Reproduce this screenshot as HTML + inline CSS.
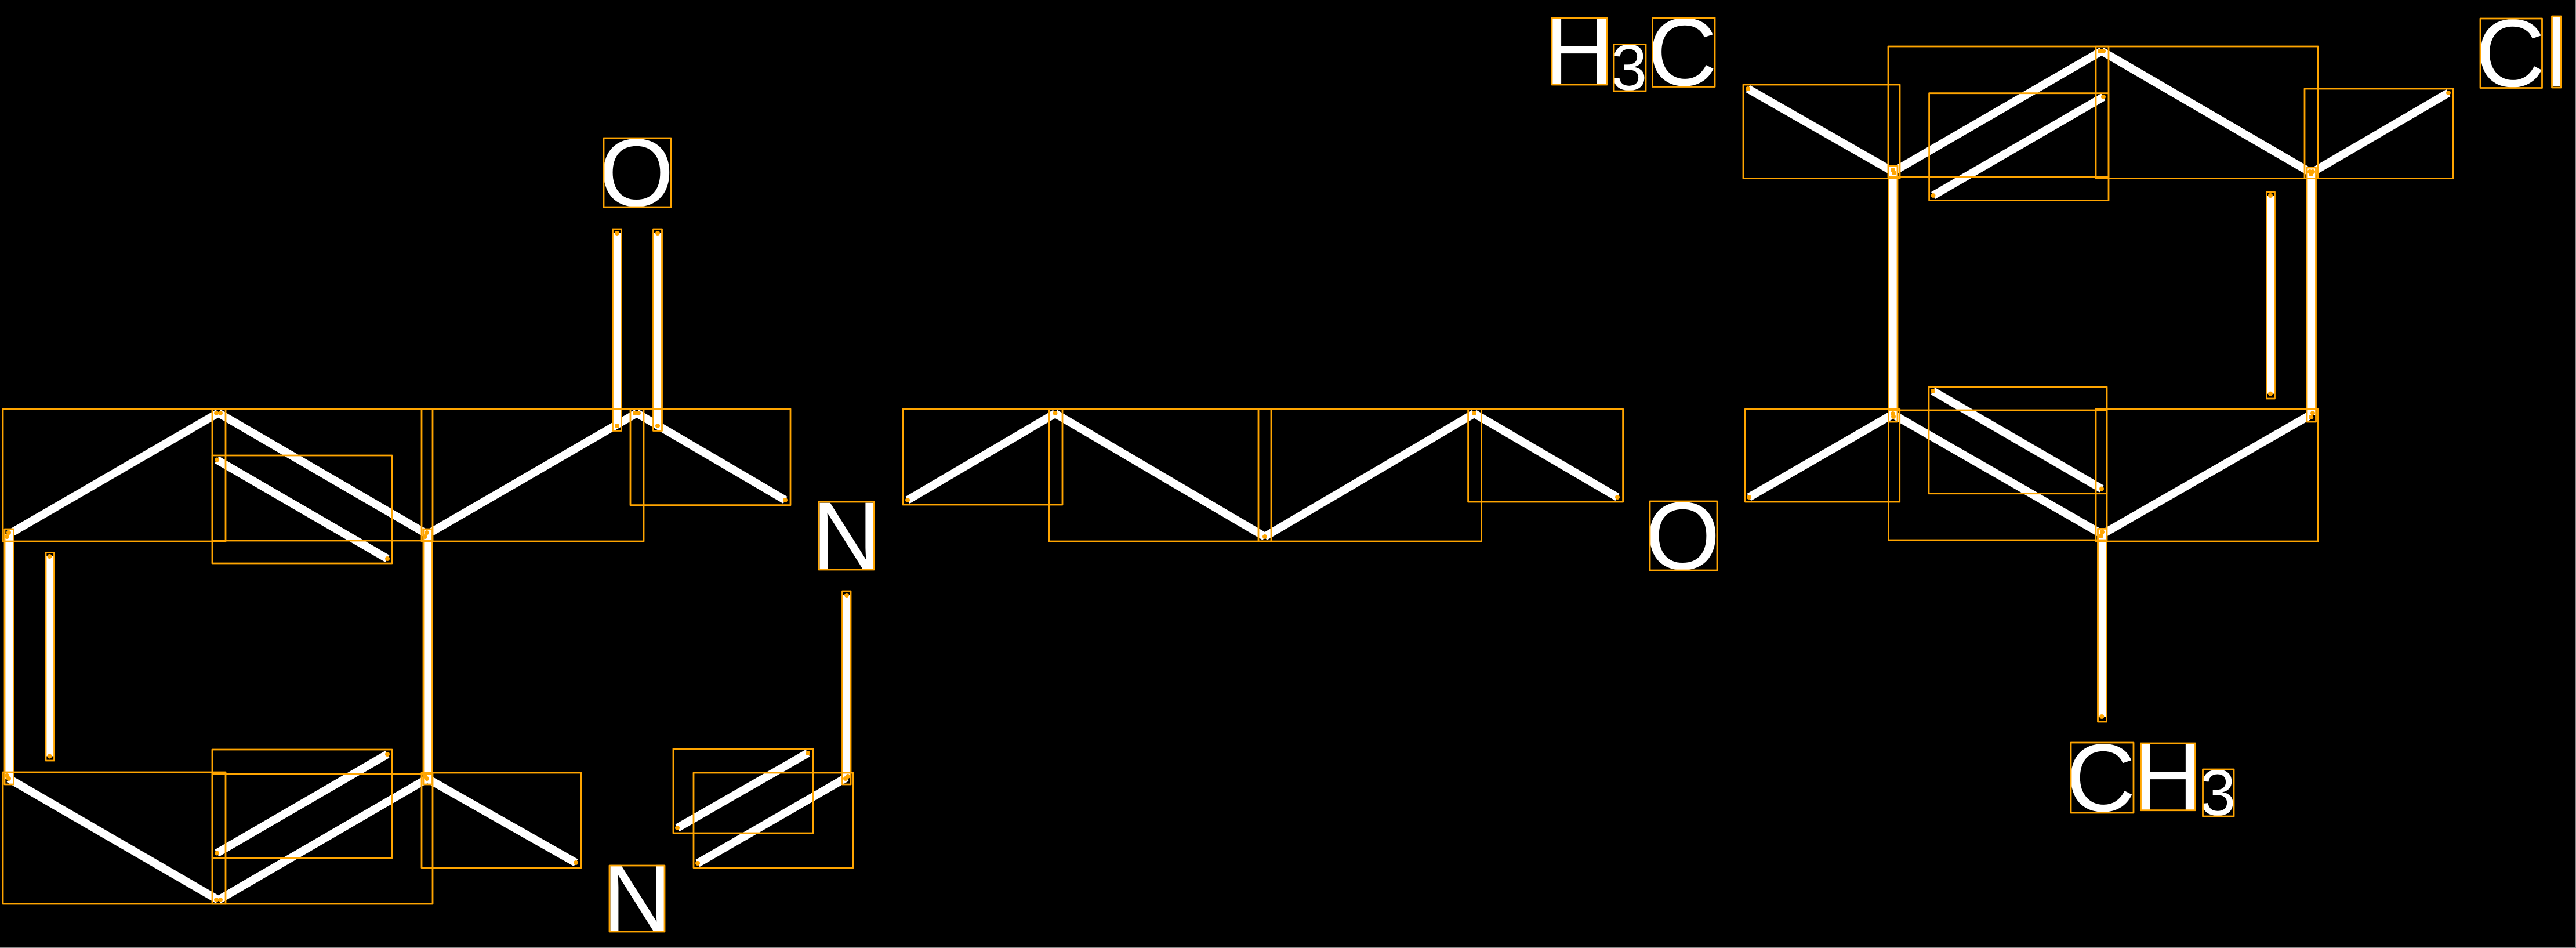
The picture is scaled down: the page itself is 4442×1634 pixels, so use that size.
<!DOCTYPE html>
<html lang="en">
<head>
<meta charset="utf-8">
<title>Molecule diagram</title>
<style>
html,body{margin:0;padding:0;background:#000}
svg{display:block}
text{font-family:"Liberation Sans",sans-serif;fill:#fff}
.a{font-size:166px}
.s{font-size:112px}
</style>
</head>
<body>
<svg xmlns="http://www.w3.org/2000/svg" width="4442" height="1634" viewBox="0 0 4442 1634">
<rect x="0" y="0" width="4442" height="1634" fill="#000"/>
<rect x="4441" y="0" width="1" height="1634" fill="#888"/>
<rect x="0" y="1633" width="4442" height="1" fill="#888"/>

<g stroke="#fff" stroke-width="14" fill="none" stroke-linecap="butt">
<line x1="15" y1="921" x2="376" y2="712"/>
<line x1="377" y1="712" x2="737" y2="921"/>
<line x1="374" y1="792.5" x2="668" y2="963"/>
<line x1="15.5" y1="921" x2="15.5" y2="1342"/>
<line x1="86" y1="959" x2="86" y2="1303.5"/>
<line x1="15" y1="1342" x2="376" y2="1551"/>
<line x1="377" y1="1551" x2="737" y2="1342"/>
<line x1="374" y1="1470.5" x2="668" y2="1300"/>
<line x1="737.5" y1="921" x2="737.5" y2="1342"/>
<line x1="737" y1="921" x2="1098" y2="712"/>
<line x1="1098" y1="712" x2="1354" y2="862"/>
<line x1="1064" y1="402" x2="1064" y2="734"/>
<line x1="1134" y1="402" x2="1134" y2="734"/>
<line x1="737" y1="1342" x2="993" y2="1487"/>
<line x1="1203" y1="1488" x2="1460" y2="1340"/>
<line x1="1168" y1="1427" x2="1393" y2="1298"/>
<line x1="1460" y1="1026" x2="1460" y2="1340"/>
<line x1="1565" y1="862" x2="1819.5" y2="712.7"/>
<line x1="1819.5" y1="712.7" x2="2181" y2="925"/>
<line x1="2181" y1="925" x2="2542" y2="712.7"/>
<line x1="2542" y1="712.7" x2="2789" y2="857"/>
<line x1="3016" y1="857" x2="3264" y2="714"/>
<line x1="3014" y1="153" x2="3264.6" y2="296"/>
<line x1="3264.5" y1="296" x2="3264.5" y2="716"/>
<line x1="3264.6" y1="296" x2="3624" y2="88"/>
<line x1="3333.5" y1="337" x2="3627" y2="167"/>
<line x1="3624" y1="88" x2="3985.5" y2="298"/>
<line x1="3985.5" y1="298" x2="4222" y2="160"/>
<line x1="3985.5" y1="298" x2="3985.5" y2="716"/>
<line x1="3915.5" y1="337" x2="3915.5" y2="678.6"/>
<line x1="3986" y1="714" x2="3625" y2="921"/>
<line x1="3264" y1="714" x2="3625" y2="921"/>
<line x1="3333" y1="674" x2="3624" y2="842.5"/>
<line x1="3624.5" y1="921" x2="3624.5" y2="1235"/>
</g>

<text class="a" x="1033" y="355">O</text>
<text class="a" x="1400" y="981">N</text>
<text class="a" x="1039" y="1605">N</text>
<text class="a" x="2837" y="981">O</text>
<text class="a" x="2663" y="145">H</text>
<text class="s" x="2778" y="155">3</text>
<text class="a" x="2841" y="147">C</text>
<text class="a" x="4269" y="149">C</text>
<text class="a" x="4389" y="149">l</text>
<text class="a" x="3562.7" y="1398">C</text>
<text class="a" x="3678" y="1396">H</text>
<text class="s" x="3793" y="1405">3</text>

<g stroke="#FFA500" stroke-width="2.8" stroke-linejoin="round" fill="none">
<rect x="5" y="705" width="384" height="228"/>
<rect x="366" y="705" width="380" height="227"/>
<rect x="366" y="785" width="310" height="186"/>
<rect x="8" y="912" width="15.5" height="440"/>
<rect x="79" y="952.6" width="14.5" height="358.4"/>
<rect x="5" y="1331" width="384" height="227"/>
<rect x="366" y="1333.6" width="380" height="224.4"/>
<rect x="366" y="1292" width="310" height="186.6"/>
<rect x="730" y="912" width="15.5" height="440"/>
<rect x="727" y="705" width="383" height="228"/>
<rect x="1087" y="705" width="276" height="165.6"/>
<rect x="1056.5" y="395" width="15" height="347.5"/>
<rect x="1126.5" y="395" width="15" height="347.5"/>
<rect x="727" y="1332" width="275" height="163.6"/>
<rect x="1196" y="1332" width="275" height="163.6"/>
<rect x="1161" y="1290.6" width="241" height="145.4"/>
<rect x="1452.5" y="1019" width="14.5" height="333"/>

<rect x="1557" y="705" width="275" height="165"/>
<rect x="1809" y="705" width="383" height="228"/>
<rect x="2170" y="705" width="384.5" height="228"/>
<rect x="2531.6" y="705" width="267" height="160"/>

<rect x="3006" y="146" width="270" height="161.6"/>
<rect x="3256.5" y="285.7" width="15.5" height="441.3"/>
<rect x="3256" y="80" width="380" height="225"/>
<rect x="3326.6" y="160.7" width="309.4" height="184.7"/>
<rect x="3614" y="80" width="383" height="227.6"/>
<rect x="3974" y="153" width="256" height="154.6"/>
<rect x="3978" y="289" width="15.5" height="438"/>
<rect x="3908.5" y="331" width="14" height="356"/>
<rect x="3009.4" y="705" width="266.3" height="160"/>
<rect x="3256.5" y="707" width="376.5" height="224"/>
<rect x="3326" y="667" width="307" height="183.7"/>
<rect x="3614" y="705" width="383" height="228"/>
<rect x="3617.5" y="911.4" width="15" height="332.6"/>

<rect x="1041" y="238" width="116" height="119"/>
<rect x="1412" y="865" width="95" height="117"/>
<rect x="1051" y="1492" width="95" height="114"/>
<rect x="2845" y="864" width="116" height="119"/>
<rect x="2676" y="30.6" width="95" height="115.4"/>
<rect x="2783" y="76.5" width="55" height="80.5"/>
<rect x="2849.5" y="30.6" width="107.5" height="118.9"/>
<rect x="4277" y="32" width="106.5" height="119.5"/>
<rect x="4400.5" y="28" width="15.5" height="123"/>
<rect x="3571" y="1280" width="108" height="121"/>
<rect x="3691.5" y="1281" width="94" height="115.7"/>
<rect x="3798.5" y="1326" width="53.5" height="81"/>
</g>

<g fill="#FFA500">
<circle cx="15" cy="918" r="4"/><circle cx="12" cy="925" r="4"/>
<circle cx="15" cy="1342" r="4"/><circle cx="12" cy="1337" r="4"/>
<circle cx="373" cy="712" r="4"/><circle cx="380" cy="712" r="4"/>
<circle cx="373" cy="1551" r="4"/><circle cx="380" cy="1551" r="4"/>
<circle cx="736" cy="918" r="4"/><circle cx="733" cy="925" r="4"/>
<circle cx="736" cy="1342" r="4"/><circle cx="733" cy="1338" r="4"/>
<circle cx="374" cy="792.5" r="4"/><circle cx="668" cy="963" r="4"/>
<circle cx="85.5" cy="959" r="4"/><circle cx="85.5" cy="1303.5" r="4"/>
<circle cx="374" cy="1470.5" r="4"/><circle cx="668" cy="1300" r="4"/>
<circle cx="1095" cy="712" r="4"/><circle cx="1101" cy="712" r="4"/>
<circle cx="1354" cy="862" r="4"/>
<circle cx="1064" cy="402" r="4"/><circle cx="1064" cy="734" r="4"/>
<circle cx="1134" cy="402" r="4"/><circle cx="1134" cy="734" r="4"/>
<circle cx="993" cy="1487" r="4"/>
<circle cx="1203" cy="1488" r="4"/><circle cx="1168" cy="1427" r="4"/><circle cx="1393" cy="1298" r="4"/>
<circle cx="1460" cy="1026" r="4"/><circle cx="1462" cy="1338" r="4"/><circle cx="1458" cy="1342" r="4"/>
<circle cx="1565" cy="862" r="4"/><circle cx="1819.5" cy="712" r="4"/>
<circle cx="2181" cy="925" r="4"/><circle cx="2542" cy="712" r="4"/><circle cx="2789" cy="857" r="4"/>
<circle cx="3014" cy="153" r="4"/><circle cx="3264" cy="293" r="4"/><circle cx="3266" cy="298" r="4"/>
<circle cx="3264" cy="713" r="4"/><circle cx="3265" cy="718" r="4"/>
<circle cx="3016" cy="857" r="4"/>
<circle cx="3333.5" cy="337" r="4"/><circle cx="3627" cy="167" r="4"/>
<circle cx="3621" cy="88" r="4"/><circle cx="3627" cy="88" r="4"/>
<circle cx="3983" cy="296" r="4"/><circle cx="3988" cy="296" r="4"/><circle cx="3985" cy="300" r="4"/>
<circle cx="4222" cy="160" r="4"/>
<circle cx="3915" cy="337" r="4"/><circle cx="3915" cy="678.6" r="4"/>
<circle cx="3988" cy="712" r="4"/><circle cx="3985" cy="719" r="4"/>
<circle cx="3333" cy="674" r="4"/><circle cx="3624" cy="842.5" r="4"/>
<circle cx="3625" cy="917" r="4"/><circle cx="3623" cy="924" r="4"/>
<circle cx="3624.3" cy="1235" r="4"/>
</g>
</svg>
</body>
</html>
